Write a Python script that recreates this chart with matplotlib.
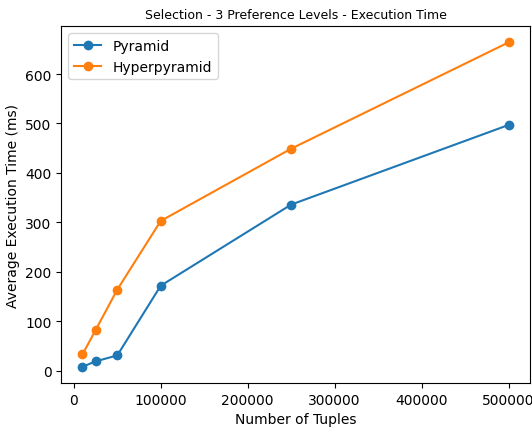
import matplotlib
matplotlib.use("Agg")
import matplotlib.pyplot as plt

tuples = [10000, 25000, 50000, 100000, 250000, 500000]
pyramid = [8, 19, 31, 172, 336, 497]
hyperpyramid = [33, 82, 164, 303, 449, 664]

fig, ax = plt.subplots(figsize=(5.32, 4.31), dpi=100)
ax.plot(tuples, pyramid, marker='o', label='Pyramid')
ax.plot(tuples, hyperpyramid, marker='o', label='Hyperpyramid')
ax.set_title('Selection - 3 Preference Levels - Execution Time', fontsize=9)
ax.set_xlabel('Number of Tuples')
ax.set_ylabel('Average Execution Time (ms)')
ax.legend(loc='upper left')
fig.subplots_adjust(left=0.115, right=0.996, top=0.937, bottom=0.109)
fig.savefig('out.png')
